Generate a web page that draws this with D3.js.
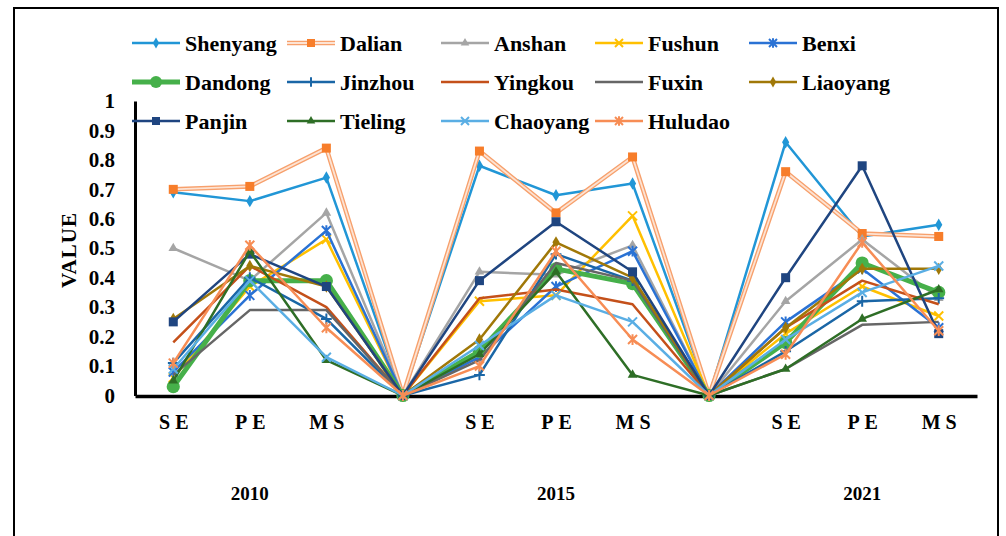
<!DOCTYPE html>
<html><head><meta charset="utf-8">
<script src="https://cdn.jsdelivr.net/npm/d3@7"></script>
<style>body{margin:0;background:#fff;} svg{display:block;} text{font-family:"Liberation Serif","Times New Roman",serif;font-weight:bold;}</style>
</head><body><svg id="c" width="1006" height="536"></svg>
<script>
const categories = ["SE","PE","MS","","SE","PE","MS","","SE","PE","MS"];
const years = ["2010","2015","2021"];
const yTicks = [0,0.1,0.2,0.3,0.4,0.5,0.6,0.7,0.8,0.9,1];
const cities = ["Shenyang","Dalian","Anshan","Fushun","Benxi","Dandong","Jinzhou","Yingkou","Fuxin","Liaoyang","Panjin","Tieling","Chaoyang","Huludao"];
const Shenyang = [0.69,0.66,0.74,0,0.78,0.68,0.72,0,0.86,0.54,0.58];
const Dalian   = [0.70,0.71,0.84,0,0.83,0.62,0.81,0,0.76,0.55,0.54];
const Anshan   = [0.50,0.39,0.62,0,0.42,0.41,0.51,0,0.32,0.53,0.33];
const Fushun   = [0.06,0.37,0.53,0,0.32,0.34,0.61,0,0.21,0.37,0.27];
const Benxi    = [0.08,0.34,0.56,0,0.13,0.37,0.49,0,0.25,0.43,0.23];
const Dandong  = [0.03,0.39,0.39,0,0.15,0.43,0.38,0,0.18,0.45,0.35];
const Jinzhou  = [0.11,0.40,0.26,0,0.07,0.48,0.39,0,0.15,0.32,0.33];
const Yingkou  = [0.18,0.44,0.30,0,0.33,0.36,0.31,0,0.23,0.39,0.31];
const Fuxin    = [0.07,0.29,0.29,0,0.12,0.45,0.39,0,0.09,0.24,0.25];
const Liaoyang = [0.26,0.44,0.37,0,0.19,0.52,0.40,0,0.23,0.43,0.43];
const Panjin   = [0.25,0.48,0.37,0,0.39,0.59,0.42,0,0.40,0.78,0.21];
const Tieling  = [0.05,0.49,0.12,0,0.14,0.42,0.07,0,0.09,0.26,0.36];
const Chaoyang = [0.09,0.39,0.13,0,0.17,0.34,0.25,0,0.19,0.35,0.44];
const Huludao  = [0.11,0.51,0.23,0,0.10,0.49,0.19,0,0.14,0.52,0.22];
const values = [Shenyang,Dalian,Anshan,Fushun,Benxi,Dandong,Jinzhou,Yingkou,Fuxin,Liaoyang,Panjin,Tieling,Chaoyang,Huludao];
const colors = ["#2196d6","#f7a06c","#a5a5a5","#ffc000","#2a72d4","#46b04a","#1a66a6","#c4501a","#666666","#a07808","#1f4580","#2e6e26","#5aaee4","#f78d55"];
const markerColors = ["#2196d6","#f77d2a","#a5a5a5","#ffc000","#2a72d4","#46b04a","#1a66a6","#c4501a","#666666","#a07808","#1f4580","#2e6e26","#5aaee4","#f78d55"];
const markers = ["diamond","square","triangle","x","star","circle","plus","none","none","diamond","square","triangle","x","star"];
const widths = [2.5,4,2.5,2.5,2.5,5,2.5,2.5,2.5,2.5,2.5,2.5,2.5,2.5];

const svg = d3.select("#c");
svg.append("rect").attr("x",14).attr("y",8).attr("width",984).attr("height",540)
  .attr("fill","none").attr("stroke","#000").attr("stroke-width",2);

const x = d3.scalePoint().domain(d3.range(categories.length)).range([135,977]).padding(0.5);
const y = d3.scaleLinear().domain([0,1]).range([395.5,101]);

function drawMarker(g, type, cx, cy, col, s){
  if(type==="none") return;
  if(type==="diamond") g.append("path").attr("d",d3.symbol(d3.symbolDiamond, s*s*0.55)()).attr("transform",`translate(${cx},${cy})`).attr("fill",col);
  else if(type==="square") g.append("rect").attr("x",cx-s/2).attr("y",cy-s/2).attr("width",s).attr("height",s).attr("fill",col);
  else if(type==="triangle") g.append("path").attr("d",d3.symbol(d3.symbolTriangle, s*s*0.5)()).attr("transform",`translate(${cx},${cy})`).attr("fill",col);
  else if(type==="circle") g.append("circle").attr("cx",cx).attr("cy",cy).attr("r",s*0.6).attr("fill",col);
  else {
    const h=s/2, p=d3.path();
    if(type==="x"||type==="star"){p.moveTo(cx-h,cy-h);p.lineTo(cx+h,cy+h);p.moveTo(cx-h,cy+h);p.lineTo(cx+h,cy-h);}
    if(type==="plus"||type==="star"){p.moveTo(cx,cy-h*1.2);p.lineTo(cx,cy+h*1.2);}
    if(type==="plus"){p.moveTo(cx-h*1.2,cy);p.lineTo(cx+h*1.2,cy);}
    g.append("path").attr("d",p.toString()).attr("stroke",col).attr("stroke-width",2).attr("fill","none");
  }
}

// axes
const yAxis = d3.axisLeft(y).tickValues(yTicks).tickSize(0).tickPadding(20).tickFormat(d=>d3.format("")(+d.toFixed(1)));
const gy = svg.append("g").attr("transform","translate(135,0)").call(yAxis);
gy.select(".domain").attr("stroke","#000").attr("stroke-width",3);
gy.selectAll("text").attr("font-size",21).attr("font-family","Liberation Serif").attr("font-weight","bold").attr("fill","#000");

const xAxis = d3.axisBottom(x).tickSize(0).tickPadding(19).tickFormat(i=>categories[i]);
const gx = svg.append("g").attr("transform","translate(0,396)").call(xAxis);
gx.select(".domain").attr("stroke","#000").attr("stroke-width",3.5);
gx.selectAll("text").attr("font-size",20).attr("font-family","Liberation Serif").attr("font-weight","bold").attr("fill","#000").attr("letter-spacing","5px").attr("dx","2.5px");

svg.append("g").selectAll("text").data(years).join("text")
  .attr("x",(d,i)=>x(1+4*i)).attr("y",500).attr("text-anchor","middle").attr("font-size",19).text(d=>d);

svg.append("text").attr("transform","translate(76,250) rotate(-90)").attr("text-anchor","middle")
  .attr("font-size",21).attr("letter-spacing","1px").text("VALUE");

// lines
const line = d3.line().x((d,i)=>x(i)).y(d=>y(d));
const plot = svg.append("g");
values.forEach((vals,k)=>{
  const g = plot.append("g");
  if(k===1){
    g.append("path").attr("d",line(vals)).attr("fill","none").attr("stroke",colors[k]).attr("stroke-width",4.5).attr("stroke-linejoin","round");
    g.append("path").attr("d",line(vals)).attr("fill","none").attr("stroke","#fde3d3").attr("stroke-width",1.8).attr("stroke-linejoin","round");
  } else {
    g.append("path").attr("d",line(vals)).attr("fill","none").attr("stroke",colors[k]).attr("stroke-width",widths[k]).attr("stroke-linejoin","round");
  }
  vals.forEach((v,i)=>drawMarker(g, markers[k], x(i), y(v), markerColors[k], markers[k]==="circle"?11:9));
});

// legend
const legX = [132,287,441,595,749], legY = [43,82,121];
cities.forEach((c,k)=>{
  const lx = legX[k%5], ly = legY[Math.floor(k/5)];
  const g = svg.append("g");
  if(k===1){
    g.append("line").attr("x1",lx).attr("x2",lx+48).attr("y1",ly).attr("y2",ly).attr("stroke",colors[k]).attr("stroke-width",4.5);
    g.append("line").attr("x1",lx).attr("x2",lx+48).attr("y1",ly).attr("y2",ly).attr("stroke","#fde3d3").attr("stroke-width",1.8);
  } else {
    g.append("line").attr("x1",lx).attr("x2",lx+48).attr("y1",ly).attr("y2",ly).attr("stroke",colors[k]).attr("stroke-width",widths[k]);
  }
  drawMarker(g, markers[k], lx+24, ly, markerColors[k], markers[k]==="circle"?10:8);
  g.append("text").attr("x",lx+53).attr("y",ly+7.5).attr("font-size",22).attr("fill","#000").text(c);
});
</script></body></html>
